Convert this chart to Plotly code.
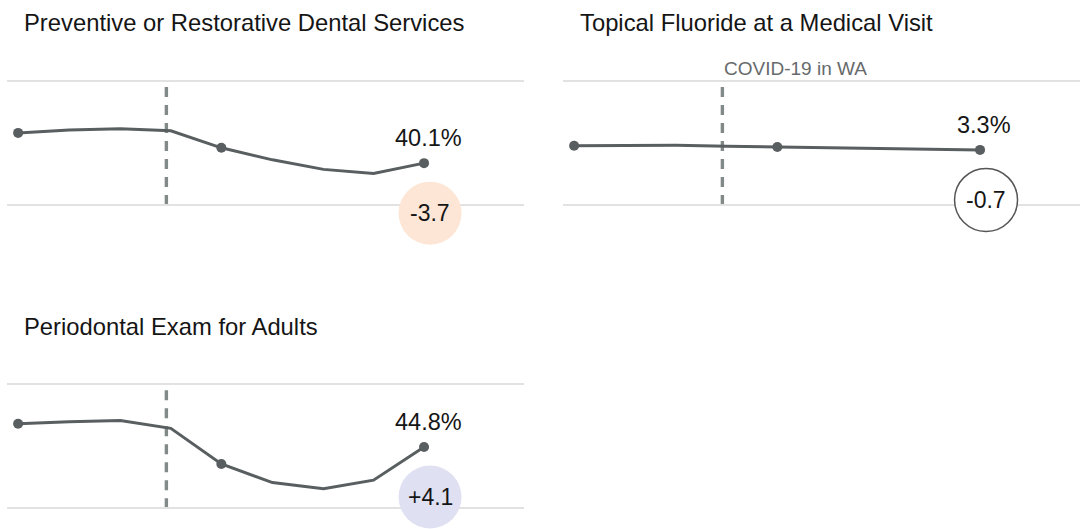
import plotly.graph_objects as go

W, H = 1081, 529

# Quarter-end measurement periods and the WA stay-home order date
periods = ["2019-06-30", "2019-09-30", "2019-12-31", "2020-03-31", "2020-06-30",
           "2020-09-30", "2020-12-31", "2021-03-31", "2021-06-30"]
covid_date = "2020-03-23"
x_range = ["2019-06-10", "2021-12-27"]

titles = ["Preventive or Restorative Dental Services",
          "Topical Fluoride at a Medical Visit",
          "Periodontal Exam for Adults"]

# Rates (%) per period
preventive = [47.4, 48.1, 48.4, 47.9, 43.8, 40.9, 38.6, 37.6, 40.1]
fluoride = [4.3, 4.4, 4.4, 4.2, 4.0, 3.8, 3.6, 3.4, 3.3]
periodontal = [50.4, 50.9, 51.2, 49.3, 40.7, 36.2, 34.7, 36.8, 44.8]
series = [preventive, fluoride, periodontal]

# Year-over-year change in percentage points
changes = [-3.7, -0.7, 4.1]

# Gridline values (bottom, top) per panel
grid_vals = [(30, 60), (-10, 20), (30, 60)]

LINE = "#595e60"
TEXT = "#151515"
FONT = "Liberation Sans, Arial, sans-serif"

# panel geometry in pixels: x-left, x-right, top gridline y, bottom gridline y, pad top, pad bottom
panels = [
    (7, 524, 80.7, 205.0, 15, 50),
    (563, 1080, 80.7, 205.0, 15, 50),
    (7, 524, 384.0, 508.3, 15, 20.7),
]

# circle badge styles: fill, outline
badge = [
    dict(fill="#fde6d5", line=dict(width=0)),
    dict(fill="#ffffff", line=dict(color="#555555", width=1.5)),
    dict(fill="#dfe1f2", line=dict(width=0)),
]

fig = go.Figure()
shapes, annotations = [], []
layout_axes = {}

for i, (vals, title) in enumerate(zip(series, titles)):
    xl, xr, gt, gb, pt, pb = panels[i]
    lo, hi = grid_vals[i]
    scale = (gb - gt) / (hi - lo)
    yr = [lo - pb / scale, hi + pt / scale]
    xdom = [xl / W, xr / W]
    ydom = [1 - (gb + pb) / H, 1 - (gt - pt) / H]
    sfx = "" if i == 0 else str(i + 1)
    xa, ya = "x" + sfx, "y" + sfx

    layout_axes["xaxis" + sfx] = dict(domain=xdom, range=x_range, type="date",
                                      showgrid=False, showticklabels=False,
                                      zeroline=False, showline=False, anchor=ya)
    layout_axes["yaxis" + sfx] = dict(domain=ydom, range=yr, tickvals=[lo, hi],
                                      showticklabels=False, showgrid=True,
                                      gridcolor="#e2e2e2", gridwidth=1.5,
                                      zeroline=False, showline=False, anchor=xa)

    # COVID-19 marker line
    shapes.append(dict(type="line", xref=xa, yref=ya, x0=covid_date, x1=covid_date,
                       y0=lo, y1=hi, layer="below",
                       line=dict(color="#818989", width=3.4, dash="10px,8px")))

    fig.add_trace(go.Scatter(x=periods, y=vals, mode="lines",
                             line=dict(color=LINE, width=3),
                             xaxis=xa, yaxis=ya, showlegend=False,
                             hoverinfo="skip"))
    # annual points get a dot
    fig.add_trace(go.Scatter(x=periods[::4], y=vals[::4], mode="markers",
                             marker=dict(size=10, color=LINE, opacity=1,
                                         line=dict(width=0)),
                             xaxis=xa, yaxis=ya, showlegend=False,
                             hoverinfo="skip"))

    last_x, last_y = periods[-1], vals[-1]

    # change badge below the last point
    shapes.append(dict(type="circle", xref=xa, yref=ya, xsizemode="pixel",
                       ysizemode="pixel", xanchor=last_x, yanchor=last_y,
                       x0=6 - 31.5, x1=6 + 31.5, y0=-50 - 31.5, y1=-50 + 31.5,
                       fillcolor=badge[i]["fill"], line=badge[i]["line"], layer="above"))
    annotations.append(dict(x=last_x, y=last_y, xref=xa, yref=ya, xshift=6, yshift=-50,
                            text=f"{changes[i]:+.1f}", showarrow=False,
                            font=dict(family=FONT, size=23, color=TEXT),
                            xanchor="center", yanchor="middle"))

    # latest value label
    annotations.append(dict(x=last_x, y=last_y, xref=xa, yref=ya, xshift=4, yshift=25,
                            text=f"{last_y:.1f}%", showarrow=False,
                            font=dict(family=FONT, size=23.5, color=TEXT),
                            xanchor="center", yanchor="middle"))

    # panel title
    title_y = gt - 58
    annotations.append(dict(x=(xl + 15) / W, y=1 - title_y / H, xref="paper", yref="paper",
                            text=title, showarrow=False, xanchor="left", yanchor="middle",
                            font=dict(family=FONT, size=23.8, color=TEXT)))

    if i == 1:
        annotations.append(dict(x=covid_date, y=hi, xref=xa, yref=ya, text="COVID-19 in WA",
                                showarrow=False, xanchor="left", yanchor="bottom",
                                font=dict(family=FONT, size=19, color="#666a6b")))

fig.update_layout(width=W, height=H, margin=dict(l=0, r=0, t=0, b=0),
                  paper_bgcolor="white", plot_bgcolor="white",
                  shapes=shapes, annotations=annotations, **layout_axes)

fig.write_html("out.html")
